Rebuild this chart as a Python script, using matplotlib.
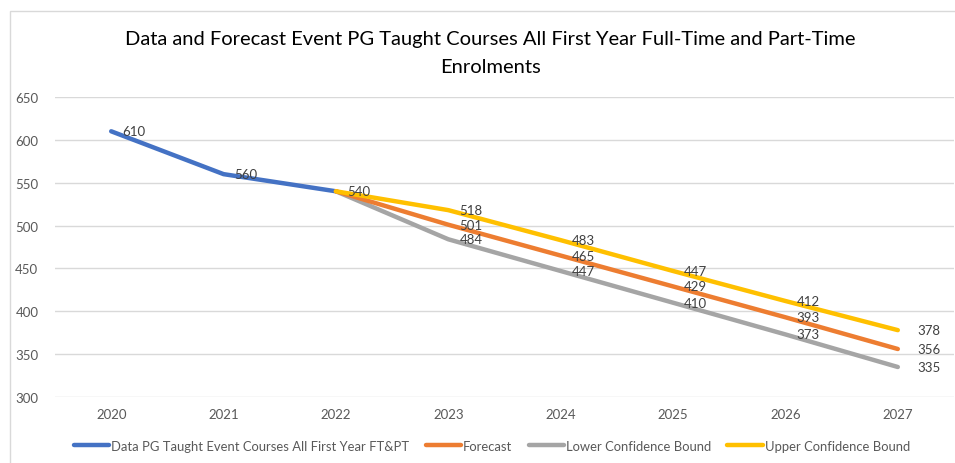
import matplotlib
matplotlib.use("Agg")
import matplotlib.pyplot as plt
from matplotlib.patches import Rectangle

years = ["2020", "2021", "2022", "2023", "2024", "2025", "2026", "2027"]
data_vals = [610, 560, 540]
forecast_vals = [540, 501, 465, 429, 393, 356]
lower_vals = [540, 484, 447, 410, 373, 335]
upper_vals = [540, 518, 483, 447, 412, 378]

series_names = ["Data PG Taught Event Courses All First Year FT&PT", "Forecast",
                "Lower Confidence Bound", "Upper Confidence Bound"]
colors = ["#4472C4", "#ED7D31", "#A5A5A5", "#FFC000"]
title = "Data and Forecast Event PG Taught Courses All First Year Full-Time and Part-Time\nEnrolments"

plt.rcParams['font.family'] = ['Lato', 'DejaVu Sans']

W, H = 955, 464
fig = plt.figure(figsize=(W / 100, H / 100), dpi=100)
fig.patch.set_facecolor("white")

# chart border
fig.patches.append(Rectangle((10 / W, -0.1), 1.2, 1 - 12 / H + 0.1, transform=fig.transFigure,
                             fill=False, edgecolor="#D9D9D9", lw=1.0))

ax = fig.add_axes([55 / W, 1 - 398 / H, (954 - 55) / W, (398 - 98) / H])
x_all = list(range(len(years)))
x_data = x_all[:3]
x_fc = x_all[2:]

lines = []
lines += ax.plot(x_data, data_vals, color=colors[0], lw=3.2, solid_capstyle="round")
lines += ax.plot(x_fc, forecast_vals, color=colors[1], lw=3.2, solid_capstyle="round")
lines += ax.plot(x_fc, lower_vals, color=colors[2], lw=3.2, solid_capstyle="round")
lines += ax.plot(x_fc, upper_vals, color=colors[3], lw=3.2, solid_capstyle="round")
lines[2].set_zorder(3.1)
lines[1].set_zorder(3.2)
lines[3].set_zorder(3.3)

lab_kw = dict(fontsize=9.5, color="#404040", va="center", ha="left")
for xi, v in zip(x_data, data_vals):
    ax.annotate(str(v), (xi, v), xytext=(8, 0), textcoords="offset points", zorder=5, **lab_kw)
for vals in (forecast_vals, lower_vals, upper_vals):
    for xi, v in zip(x_fc[1:], vals[1:]):
        off = 14 if xi == x_all[-1] else 8
        ax.annotate(str(v), (xi, v), xytext=(off, 0), textcoords="offset points", zorder=5, **lab_kw)

ax.set_xlim(-0.5, len(years) - 0.5)
ax.set_ylim(300, 650)
ax.set_yticks(range(300, 651, 50))
ax.set_xticks(x_all)
ax.set_xticklabels(years)
ax.grid(axis="y", color="#D9D9D9", lw=1.0)
ax.set_axisbelow(True)
for s in ax.spines.values():
    s.set_visible(False)
ax.tick_params(axis="both", length=0, labelsize=9.5, labelcolor="#595959")
ax.tick_params(axis="y", pad=12)
ax.tick_params(axis="x", pad=8)

fig.text(490 / W, 1 - 53.5 / H, title, ha="center", va="center", fontsize=14.5,
         color="#000000", linespacing=1.75)

fig.legend(lines, series_names, loc="center", bbox_to_anchor=(492 / W, 1 - 447 / H),
           ncol=4, frameon=False, fontsize=9.4, handlelength=2.7, handletextpad=0.15,
           columnspacing=1.25, labelcolor="#595959")

fig.savefig("out.png", dpi=100, facecolor="white")
